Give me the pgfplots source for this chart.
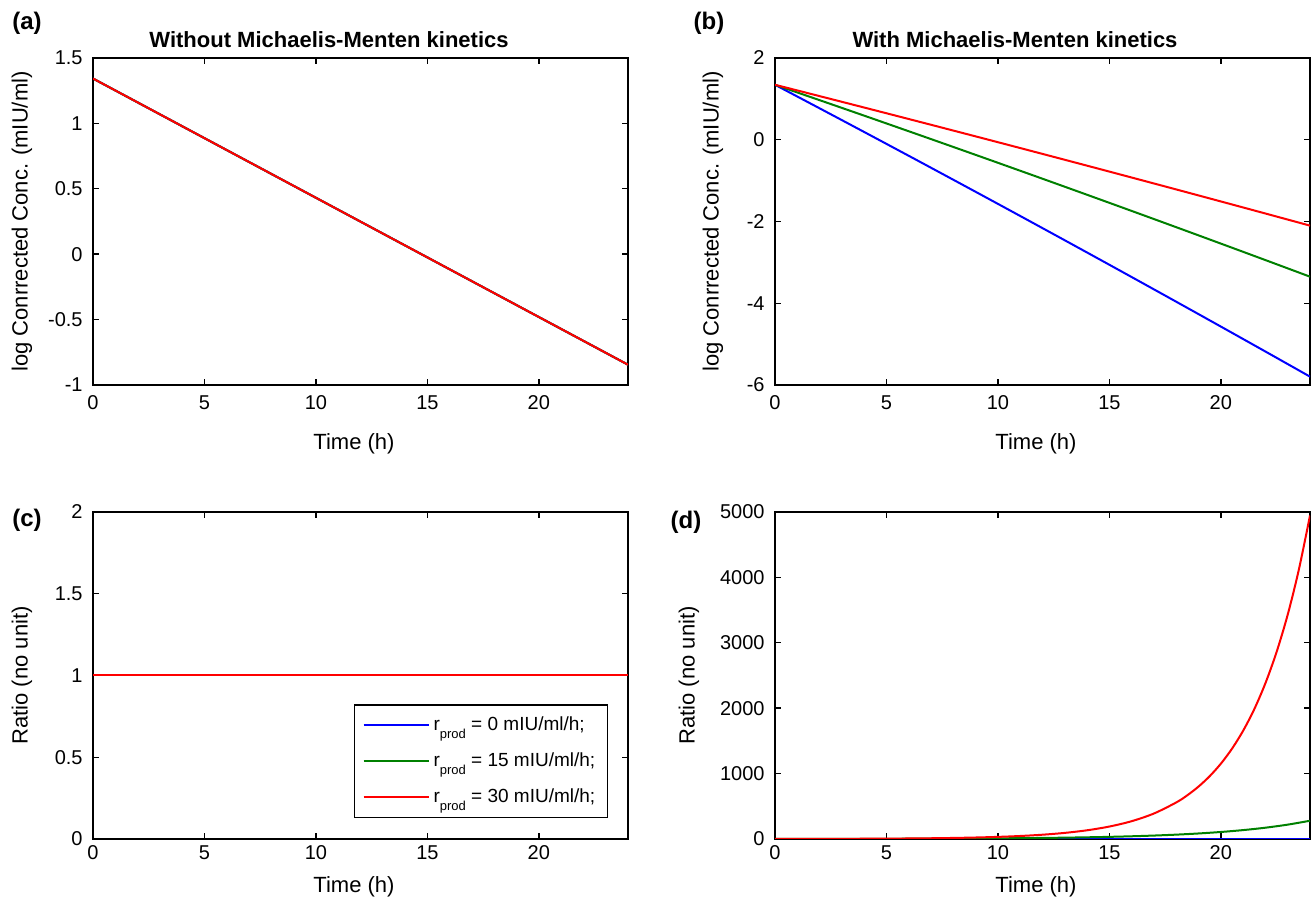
\documentclass[border=0pt]{standalone}
\usepackage{pgfplots}
\pgfplotsset{compat=1.18}
\usepackage{fontspec}
\setmainfont{Liberation Sans}

\definecolor{mblue}{RGB}{0,0,255}
\definecolor{mgreen}{RGB}{0,128,0}
\definecolor{mred}{RGB}{255,0,0}

\newcommand{\tickfont}{\fontsize{10pt}{12pt}\selectfont}
\newcommand{\labfont}{\fontsize{11pt}{13pt}\selectfont}
\newcommand{\rprod}{r\raisebox{-4pt}{\fontsize{6.5pt}{7pt}\selectfont prod}}

\pgfplotsset{
  panel/.style={
    scale only axis, width=267.5pt, height=163.5pt,
    xmin=0, xmax=24, xtick={0,5,10,15,20},
    tick align=inside, xtick pos=both, ytick pos=both,
    xticklabel pos=left, yticklabel pos=left,
    major tick length=3pt,
    axis line style={line width=0.8pt},
    every tick/.style={black, line width=0.7pt},
    tick label style={font=\tickfont},
    /pgf/number format/assume math mode=true,
    /pgf/number format/1000 sep={},
    scaled y ticks=false,
    yticklabel style={anchor=east, inner sep=0pt, xshift=-5pt},
    xticklabel style={anchor=center, inner sep=0pt},
    every axis plot/.append style={line width=1pt, mark=none},
  }
}

\begin{document}
\begin{tikzpicture}
\path[use as bounding box] (0,0) rectangle (657pt,452pt);

% (a)
\begin{axis}[panel, at={(46.5pt,259.5pt)}, anchor=south west,
  ymin=-1, ymax=1.5, ytick={-1,-0.5,0,0.5,1,1.5},
  xticklabel style={yshift=-9pt}]
\addplot[mblue] coordinates {(0,1.343) (4,0.9783) (8,0.6137) (12,0.2490) (16,-0.1157) (20,-0.4803) (24,-0.845)};
\addplot[mgreen] coordinates {(0,1.343) (4,0.9783) (8,0.6137) (12,0.2490) (16,-0.1157) (20,-0.4803) (24,-0.845)};
\addplot[mred] coordinates {(0,1.343) (4,0.9783) (8,0.6137) (12,0.2490) (16,-0.1157) (20,-0.4803) (24,-0.845)};
\end{axis}

% (b)
\begin{axis}[panel, at={(387.5pt,259.5pt)}, anchor=south west,
  ymin=-6, ymax=2, ytick={-6,-4,-2,0,2},
  xticklabel style={yshift=-9pt}]
\addplot[mblue, smooth] coordinates {
(0,1.345) (1,1.0576) (2,0.7693) (3,0.4801) (4,0.1901) (5,-0.1009) (6,-0.3927) (7,-0.6853) (8,-0.9790) (9,-1.2734) (10,-1.5687) (11,-1.8650) (12,-2.1620) (13,-2.4600) (14,-2.7589) (15,-3.0586) (16,-3.3592) (17,-3.6607) (18,-3.9631) (19,-4.2663) (20,-4.5705) (21,-4.8755) (22,-5.1813) (23,-5.4882) (24,-5.7958)};
\addplot[mgreen, smooth] coordinates {
(0,1.345) (1,1.1572) (2,0.9687) (3,0.7795) (4,0.5897) (5,0.3991) (6,0.2079) (7,0.0161) (8,-0.1766) (9,-0.3698) (10,-0.5637) (11,-0.7584) (12,-0.9536) (13,-1.1496) (14,-1.3463) (15,-1.5436) (16,-1.7416) (17,-1.9403) (18,-2.1397) (19,-2.3397) (20,-2.5405) (21,-2.7419) (22,-2.9439) (23,-3.1468) (24,-3.3502)};
\addplot[mred, smooth] coordinates {
(0,1.345) (1,1.2065) (2,1.0676) (3,0.9282) (4,0.7884) (5,0.6481) (6,0.5073) (7,0.3663) (8,0.2246) (9,0.0826) (10,-0.0599) (11,-0.2029) (12,-0.3462) (13,-0.4901) (14,-0.6344) (15,-0.7790) (16,-0.9242) (17,-1.0698) (18,-1.2159) (19,-1.3623) (20,-1.5093) (21,-1.6567) (22,-1.8044) (23,-1.9528) (24,-2.1014)};
\end{axis}

% (c)
\begin{axis}[panel, at={(46.5pt,32.5pt)}, anchor=south west,
  ymin=0, ymax=2, ytick={0,0.5,1,1.5,2},
  xticklabel style={yshift=-7pt},
  legend cell align=left,
  legend image code/.code={\draw[#1, line width=1pt] (0pt,0pt) -- (32.5pt,0pt);},
  legend style={at={(1,0)}, anchor=south east, xshift=-10pt, yshift=10.5pt,
    draw=black, line width=0.7pt, fill=white,
    font=\fontsize{9.5pt}{11pt}\selectfont,
    inner xsep=4pt, inner ysep=4pt, row sep=5.5pt,
    nodes={inner sep=2pt}}]
\addplot[mblue] coordinates {(0,1) (24,1)};
\addlegendentry{\rprod{} = 0 mIU/ml/h;}
\addplot[mgreen] coordinates {(0,1) (24,1)};
\addlegendentry{\rprod{} = 15 mIU/ml/h;}
\addplot[mred] coordinates {(0,1) (24,1)};
\addlegendentry{\rprod{} = 30 mIU/ml/h;}
\end{axis}

% (d)
\begin{axis}[panel, at={(387.5pt,32.5pt)}, anchor=south west,
  ymin=0, ymax=5000, ytick={0,1000,2000,3000,4000,5000},
  xticklabel style={yshift=-7pt}]
\addplot[mblue] coordinates {(0,1) (24,1)};
\addplot[mgreen, smooth] coordinates {
(0,1) (1,1.258) (2,1.583) (3,1.993) (4,2.510) (5,3.162) (6,3.987) (7,5.028) (8,6.345) (9,8.010) (10,10.12) (11,12.78) (12,16.16) (13,20.44) (14,25.86) (15,32.73) (16,41.46) (17,52.53) (18,66.59) (19,84.45) (20,107.2) (21,136.0) (22,172.7) (23,219.5) (24,279.0)};
\addplot[mred, smooth] coordinates {
(0,1) (1,1.409) (2,1.988) (3,2.806) (4,3.966) (5,5.611) (6,7.943) (7,11.26) (8,15.98) (9,22.70) (10,32.27) (11,45.94) (12,65.43) (13,93.30) (14,133.2) (15,190.3) (16,272.3) (17,389.9) (18,558.7) (18.5,669.2) (19,801.7) (19.5,960.5) (20,1151) (20.5,1380) (21,1655) (21.5,1985) (22,2382) (22.5,2858) (23,3430) (23.5,4119) (24,4946)};
\end{axis}

% titles and panel letters
\node[font=\fontsize{11pt}{13pt}\selectfont\bfseries] at (164.5pt,432pt) {Without Michaelis-Menten kinetics};
\node[font=\fontsize{11pt}{13pt}\selectfont\bfseries] at (507.5pt,432pt) {With Michaelis-Menten kinetics};
\node[font=\fontsize{12pt}{14pt}\selectfont\bfseries] at (13.5pt,440.5pt) {(a)};
\node[font=\fontsize{12pt}{14pt}\selectfont\bfseries] at (354.5pt,440.5pt) {(b)};
\node[font=\fontsize{12pt}{14pt}\selectfont\bfseries] at (13.5pt,192pt) {(c)};
\node[font=\fontsize{12pt}{14pt}\selectfont\bfseries] at (343pt,191pt) {(d)};

% axis labels
\node[font=\labfont, rotate=90] at (11pt,341.25pt) {log Conrrected Conc. (mIU/ml)};
\node[font=\labfont, rotate=90] at (356.5pt,341.25pt) {log Conrrected Conc. (mIU/ml)};
\node[font=\labfont, rotate=90] at (11pt,114.25pt) {Ratio (no unit)};
\node[font=\labfont, rotate=90] at (344.5pt,114.25pt) {Ratio (no unit)};
\node[font=\labfont] at (177pt,230pt) {Time (h)};
\node[font=\labfont] at (518pt,230pt) {Time (h)};
\node[font=\labfont] at (177pt,8.5pt) {Time (h)};
\node[font=\labfont] at (518pt,8.5pt) {Time (h)};
\end{tikzpicture}
\end{document}
